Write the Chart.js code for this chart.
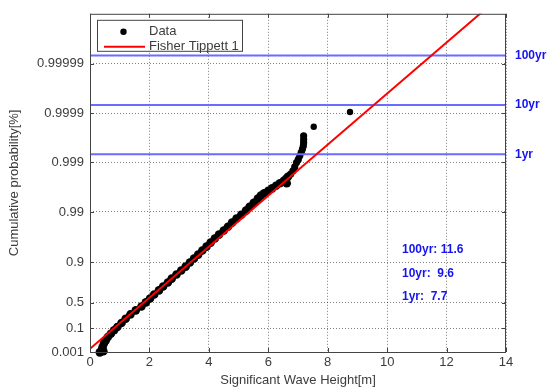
<!DOCTYPE html>
<html>
<head>
<meta charset="utf-8">
<script src="https://cdn.jsdelivr.net/npm/chart.js@4/dist/chart.umd.min.js"></script>
<style>
    html, body { margin: 0; padding: 0; background: #ffffff; }
    #wrap { width: 550px; height: 389px; position: relative; }
</style>
</head>
<body>
<div id="wrap"><canvas id="gumbelChart"></canvas></div>
<script>
"use strict";

// Observed significant wave heights [m] and their Gumbel reduced variate -ln(-ln(P))
const dataHeight = [0.33, 0.38, 0.45, 0.42, 0.47, 0.53, 0.60, 0.70, 0.81, 0.92,
    1.06, 1.20, 1.36, 1.54, 1.73, 1.88, 2.02, 2.16, 2.32, 2.46,
    2.62, 2.75, 2.91, 3.07, 3.22, 3.36, 3.50, 3.64, 3.78, 3.92,
    4.06, 4.20, 4.34, 4.50, 4.64, 4.78, 4.93, 5.09, 5.25, 5.37,
    5.51, 5.65, 5.75, 5.86, 6.00, 6.13, 6.26, 6.39, 6.52, 6.60,
    6.66, 6.62, 6.75, 6.83, 6.89, 6.95, 7.01, 7.06, 7.11, 7.15,
    7.18, 7.19, 7.19, 7.19, 7.53, 8.75];
const dataVariate = [-1.95, -1.90, -1.90, -1.71, -1.53, -1.39, -1.23, -1.08, -0.92, -0.77,
    -0.58, -0.38, -0.18, 0.01, 0.19, 0.38, 0.56, 0.75, 0.94, 1.12,
    1.31, 1.49, 1.68, 1.87, 2.05, 2.24, 2.43, 2.61, 2.80, 2.98,
    3.17, 3.36, 3.54, 3.73, 3.91, 4.10, 4.29, 4.47, 4.66, 4.84,
    5.03, 5.22, 5.36, 5.47, 5.59, 5.70, 5.82, 5.94, 6.05, 6.15,
    6.24, 5.94, 6.36, 6.52, 6.70, 6.90, 7.05, 7.22, 7.38, 7.53,
    7.68, 7.83, 7.98, 8.15, 8.57, 9.26];

// Fisher Tippett 1 fit (end points of the straight line)
const fitHeight = [0, 13.2];
const fitVariate = [-1.78, 13.93];

// Return period levels (reduced variate) and estimates
const periodNames = ['1yr', '10yr', '100yr'];
const periodVariate = [7.29, 9.59, 11.89];
const periodEstimate = ['7.7', '9.6', '11.6'];

// Axes
const probTicks = ['0.001', '0.1', '0.5', '0.9', '0.99', '0.999', '0.9999', '0.99999'];
const heightTicks = [0, 2, 4, 6, 8, 10, 12, 14];
const variateMax = 13.84;

const gumbel = p => -Math.log(-Math.log(p));
const textFont = { family: "'Liberation Sans', Arial, sans-serif", size: 13 };
const textColor = '#3c3c3c';
const gridColor = 'rgba(0,0,0,0.5)';
const blue = '#6b6bff';
const labelBlue = '#1414f0';

// Рамка, подписи периодов и легенда
const decorPlugin = {
    id: 'decor',
    afterDatasetsDraw(chart) {
        const { ctx, chartArea: a, scales } = chart;
        ctx.save();

        // frame with inward ticks
        ctx.strokeStyle = '#444';
        ctx.lineWidth = 1;
        ctx.strokeRect(a.left + 0.5, a.top + 0.5, a.right - a.left - 1, a.bottom - a.top);
        ctx.beginPath();
        heightTicks.forEach(v => {
            const px = Math.round(scales.x.getPixelForValue(v)) + 0.5;
            ctx.moveTo(px, a.bottom); ctx.lineTo(px, a.bottom - 4);
            ctx.moveTo(px, a.top); ctx.lineTo(px, a.top + 4);
        });
        probTicks.forEach(p => {
            const py = Math.round(scales.y.getPixelForValue(gumbel(Number(p)))) + 0.5;
            ctx.moveTo(a.left, py); ctx.lineTo(a.left + 4, py);
            ctx.moveTo(a.right, py); ctx.lineTo(a.right - 4, py);
        });
        ctx.stroke();

        // return period names at the right
        ctx.font = "bold 12px 'Liberation Sans', Arial, sans-serif";
        ctx.fillStyle = labelBlue;
        ctx.textBaseline = 'middle';
        ctx.textAlign = 'left';
        periodVariate.forEach((v, i) => {
            ctx.fillText(periodNames[i], a.right + 9, scales.y.getPixelForValue(v));
        });

        // estimates, 100yr on top
        const lines = periodNames.map((n, i) => n + ':  ' + periodEstimate[i]).reverse();
        lines[0] = lines[0].replace(':  ', ': ');
        lines.forEach((t, i) => {
            ctx.fillText(t, a.left + 312, a.bottom - 102 + i * 23.5);
        });

        // legend
        const lx = a.left + 7, ly = a.top + 6;
        ctx.fillStyle = '#ffffff';
        ctx.fillRect(lx, ly, 145, 31);
        ctx.strokeStyle = '#444';
        ctx.strokeRect(lx + 0.5, ly + 0.5, 145, 31);
        ctx.fillStyle = '#000';
        ctx.beginPath();
        ctx.arc(lx + 26.5, ly + 12, 3.2, 0, Math.PI * 2);
        ctx.fill();
        ctx.strokeStyle = '#ff0000';
        ctx.lineWidth = 2;
        ctx.beginPath();
        ctx.moveTo(lx + 7, ly + 27);
        ctx.lineTo(lx + 48, ly + 27);
        ctx.stroke();
        ctx.font = "13px 'Liberation Sans', Arial, sans-serif";
        ctx.fillStyle = textColor;
        ctx.fillText('Data', lx + 52, ly + 12);
        ctx.fillText('Fisher Tippett 1', lx + 52, ly + 26.5);

        ctx.restore();
    }
};

const datasets = [{
    label: 'Fisher Tippett 1',
    type: 'line',
    data: fitHeight.map((h, i) => ({ x: h, y: fitVariate[i] })),
    borderColor: '#ff0000',
    borderWidth: 2,
    pointRadius: 0,
    order: 0
}];

periodVariate.forEach((v, i) => {
    datasets.push({
        label: periodNames[i],
        type: 'line',
        data: [{ x: heightTicks[0], y: v }, { x: heightTicks[heightTicks.length - 1], y: v }],
        borderColor: blue,
        borderWidth: 2,
        pointRadius: 0,
        order: 1
    });
});

datasets.push({
    label: 'Data',
    type: 'scatter',
    data: dataHeight.map((h, i) => ({ x: h, y: dataVariate[i] })),
    backgroundColor: '#000',
    borderWidth: 0,
    pointRadius: c => (c.dataIndex >= dataHeight.length - 2 ? 3.2 : (c.dataIndex >= 52 ? 3.6 : 4.3)),
    clip: false,
    order: 2
});

new Chart(document.getElementById('gumbelChart').getContext('2d'), {
    type: 'scatter',
    data: { datasets: datasets },
    options: {
        responsive: true,
        maintainAspectRatio: false,
        animation: false,
        layout: { padding: { left: 0, right: 44, top: 12, bottom: 0 } },
        plugins: {
            legend: { display: false },
            tooltip: { enabled: false }
        },
        scales: {
            x: {
                type: 'linear',
                min: heightTicks[0],
                max: heightTicks[heightTicks.length - 1],
                afterBuildTicks: s => { s.ticks = heightTicks.map(v => ({ value: v })); },
                afterFit: s => { s.height = 37; },
                ticks: { font: textFont, color: textColor, padding: 3, maxRotation: 0, callback: v => String(v) },
                grid: { color: gridColor, lineWidth: 1, drawTicks: false },
                border: { display: false, dash: [1, 2] },
                title: { display: true, text: 'Significant Wave Height[m]', font: textFont, color: textColor, padding: { top: 0, bottom: 1 } }
            },
            y: {
                type: 'linear',
                min: gumbel(Number(probTicks[0])),
                max: variateMax,
                afterBuildTicks: s => { s.ticks = probTicks.map(p => ({ value: gumbel(Number(p)) })); },
                afterFit: s => { s.width = 90; },
                ticks: { font: textFont, color: textColor, padding: 6, callback: (v, i) => probTicks[i] },
                grid: { color: gridColor, lineWidth: 1, drawTicks: false },
                border: { display: false, dash: [1, 2] },
                title: { display: true, text: 'Cumulative probability[%]', font: textFont, color: textColor, padding: { top: 7, bottom: 0 } }
            }
        }
    },
    plugins: [decorPlugin]
});
</script>
</body>
</html>
